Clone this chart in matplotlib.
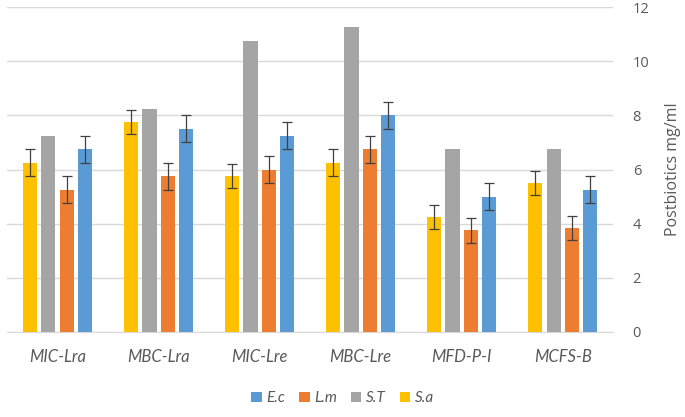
import matplotlib
matplotlib.use("Agg")
import matplotlib.pyplot as plt
import numpy as np

categories = ["MIC-Lra", "MBC-Lra", "MIC-Lre", "MBC-Lre", "MFD-P-I", "MCFS-B"]
series_names = ["S.a", "S.T", "L.m", "E.c"]
S_a = [6.25, 7.75, 5.75, 6.25, 4.25, 5.5]
S_T = [7.25, 8.25, 10.75, 11.25, 6.75, 6.75]
L_m = [5.25, 5.75, 6.0, 6.75, 3.75, 3.85]
E_c = [6.75, 7.5, 7.25, 8.0, 5.0, 5.25]
S_a_err = [0.5, 0.45, 0.45, 0.5, 0.45, 0.45]
L_m_err = [0.5, 0.5, 0.5, 0.5, 0.45, 0.45]
E_c_err = [0.5, 0.5, 0.5, 0.5, 0.5, 0.5]
yticks = [0, 2, 4, 6, 8, 10, 12]

plt.rcParams['font.family'] = ['Lato', 'DejaVu Sans']

fig = plt.figure(figsize=(6.85, 4.17), dpi=100)
ax = fig.add_axes([0.0102, 0.204, 0.885, 0.779])

x = np.arange(len(categories))
w = 0.14
step = 0.18
colors = {"S.a": "#FFC000", "S.T": "#A5A5A5", "L.m": "#ED7D31", "E.c": "#5B9BD5"}
data = [("S.a", S_a, S_a_err), ("S.T", S_T, None), ("L.m", L_m, L_m_err), ("E.c", E_c, E_c_err)]
handles = {}
for i, (name, vals, err) in enumerate(data):
    off = (i - 1.5) * step
    b = ax.bar(x + off, vals, w, color=colors[name], zorder=3, label=name)
    handles[name] = b
    if err is not None:
        ax.errorbar(x + off, vals, yerr=err, fmt='none', ecolor='#404040',
                    elinewidth=0.9, capsize=3.5, capthick=0.9, zorder=4)

ax.set_xlim(-0.5, len(categories) - 0.5)
ax.set_ylim(0, 12)
ax.set_yticks(yticks)
ax.yaxis.tick_right()
ax.yaxis.set_label_position("right")
ax.tick_params(axis='y', length=0, labelsize=10.5, labelcolor='#595959', pad=14)
for t in ax.get_yticklabels():
    t.set_family(['Open Sans', 'DejaVu Sans'])
ax.tick_params(axis='x', length=0, labelsize=12, labelcolor='#595959', pad=12)
ax.set_xticks(x)
ax.set_xticklabels(categories, style='italic')
ax.set_ylabel("Postbiotics mg/ml", fontsize=11.5, color='#595959', labelpad=11,
              family=['Open Sans', 'DejaVu Sans'])
ax.grid(axis='y', color='#D9D9D9', linewidth=1, zorder=0)
for s in ['top', 'left', 'right']:
    ax.spines[s].set_visible(False)
ax.spines['bottom'].set_color('#D9D9D9')
ax.spines['bottom'].set_zorder(1)

order = ["E.c", "L.m", "S.T", "S.a"]
leg = fig.legend([handles[n] for n in order], order, loc='center', bbox_to_anchor=(0.5, 0.045),
                 ncol=4, frameon=False, handlelength=0.7, handleheight=0.7,
                 handletextpad=0.3, columnspacing=0.9, prop={'style': 'italic', 'size': 11})
for t in leg.get_texts():
    t.set_color('#595959')

fig.savefig("out.png", dpi=100)
